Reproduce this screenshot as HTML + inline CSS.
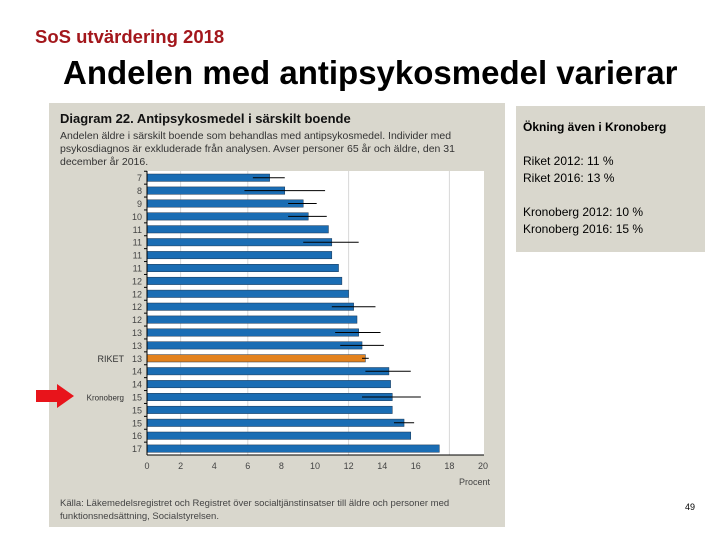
<!DOCTYPE html>
<html><head><meta charset="utf-8"><style>
body{margin:0;width:720px;height:540px;background:#fff;position:relative;overflow:hidden;font-family:"Liberation Sans",sans-serif}
.a{position:absolute;white-space:nowrap}
</style></head><body>
<div class="a" style="left:35px;top:26px;font-size:18.5px;font-weight:bold;color:#a3171c">SoS utvärdering 2018</div>
<div class="a" style="left:63px;top:54px;font-size:33px;font-weight:bold;color:#000">Andelen med antipsykosmedel varierar</div>
<div class="a" style="left:516px;top:106px;width:189px;height:146px;background:#d9d7cd"></div>
<div class="a" style="left:523px;top:120px;font-size:12px;font-weight:bold">Ökning även i Kronoberg</div>
<div class="a" style="left:523px;top:153px;font-size:12px;line-height:17px">Riket 2012: 11 %<br>Riket 2016: 13 %<br><br>Kronoberg 2012: 10 %<br>Kronoberg 2016: 15 %</div>
<div class="a" style="left:685px;top:502px;font-size:9px">49</div>
<svg width="720" height="540" style="position:absolute;left:0;top:0">
<rect x="49" y="103" width="456" height="424" fill="#d9d7cd"/>
<rect x="147" y="171" width="337" height="284" fill="#fff"/>
<text x="60" y="123" font-size="13" font-weight="bold" fill="#111">Diagram 22. Antipsykosmedel i särskilt boende</text>
<g font-size="10.5" fill="#333">
<text x="60" y="139">Andelen äldre i särskilt boende som behandlas med antipsykosmedel. Individer med</text>
<text x="60" y="152">psykosdiagnos är exkluderade från analysen. Avser personer 65 år och äldre, den 31</text>
<text x="60" y="165">december år 2016.</text></g>
<g font-size="9.5" fill="#444">
<text x="60" y="506">Källa: Läkemedelsregistret och Registret över socialtjänstinsatser till äldre och personer med</text>
<text x="60" y="519">funktionsnedsättning, Socialstyrelsen.</text></g>
<text x="490" y="485" font-size="9" fill="#444" text-anchor="end">Procent</text>
<polygon points="36,390 57,390 57,384 74,396 57,408 57,402 36,402" fill="#e8141b"/>
<g id="g"></g>
</svg>
<script>
const labels=["7","8","9","10","11","11","11","11","12","12","12","12","13","13","13","14","14","15","15","15","16","17"];
const values=[7.3,8.2,9.3,9.6,10.8,11.0,11.0,11.4,11.6,12.0,12.3,12.5,12.6,12.8,13.0,14.4,14.5,14.6,14.6,15.3,15.7,17.4];
const errLo=[6.3,5.8,8.4,8.4,null,9.3,null,null,null,null,11.0,null,11.2,11.5,12.8,13.0,null,12.8,null,14.7,null,null];
const errHi=[8.2,10.6,10.1,10.7,null,12.6,null,null,null,null,13.6,null,13.9,14.1,13.2,15.7,null,16.3,null,15.9,null,null];
const names=["","","","","","","","","","","","","","","RIKET","","","Kronoberg","","","",""];
const xTicks=[0,2,4,6,8,10,12,14,16,18,20];
const grid=[2,6,12,18];
const NS="http://www.w3.org/2000/svg",g=document.getElementById('g');
const x=v=>147+v*16.8, y=i=>177.7+i*12.9;
function mk(t,a){const e=document.createElementNS(NS,t);for(const k in a)e.setAttribute(k,a[k]);g.appendChild(e);return e;}
grid.forEach(v=>{const l=mk('line',{x1:x(v),x2:x(v),y1:171,y2:455,stroke:'#d8d8d8'});

});
values.forEach((v,i)=>{
 const r=mk('rect',{x:x(0),y:y(i)-3.7,width:x(v)-x(0),height:7.4,fill:names[i]==='RIKET'?'#e3821d':'#1a6db4',stroke:'#1b3550','stroke-width':0.5});
 
 
 if(errLo[i]!=null){const e=mk('line',{x1:x(errLo[i]),x2:x(errHi[i]),y1:y(i),y2:y(i),stroke:'#000','stroke-width':1});
 
 }
 const t=mk('text',{x:142,y:y(i)+3.5,'font-size':9,fill:'#444','text-anchor':'end'});t.textContent=labels[i];
 
 
 if(names[i]){const n=mk('text',{x:124,y:y(i)+3.5,'font-size':names[i]==='RIKET'?9:8,fill:'#333','text-anchor':'end'});n.textContent=names[i];
 
 }
 const tk=mk('line',{x1:144,x2:147,y1:y(i)-6.45,y2:y(i)-6.45,stroke:'#000'});
 
 
});
const ax=mk('line',{x1:147,x2:147,y1:171,y2:455,stroke:'#000'});


const bx=mk('line',{x1:147,x2:484,y1:455,y2:455,stroke:'#000'});


xTicks.forEach(v=>{const t=mk('text',{x:x(v),y:469,'font-size':9,fill:'#444','text-anchor':'middle'});t.textContent=v;
 
 });
</script>
</body></html>
